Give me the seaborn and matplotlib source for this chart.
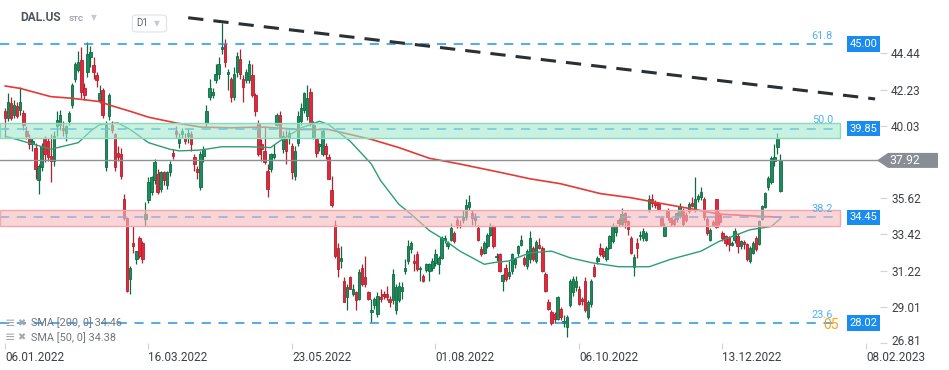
import numpy as np
import pandas as pd
import matplotlib
matplotlib.use("Agg")
import matplotlib.pyplot as plt
from matplotlib import patches, transforms
import seaborn as sns

# ---------------- data ----------------
opens = [
    40.9,40.5,41.4,40.7,41.2,41.0,40.8,39.7,39.2,38.9,38.7,36.7,37.5,39.2,39.1,38.2,37.9,40.0,40.1,39.9,39.6,40.3,41.3,42.9,43.4,44.0,42.3,43.3,44.2,43.7,43.1,41.6,
    42.2,37.5,40.6,40.1,39.5,38.4,38.3,35.6,34.4,30.7,32.9,31.9,33.2,32.9,34.35,35.5,36.0,36.7,37.1,36.2,37.2,36.4,37.2,38.4,39.7,39.0,39.5,39.3,39.4,39.5,38.1,37.4,
    36.3,38.2,40.2,41.8,41.9,42.8,43.2,44.7,45.0,43.2,42.9,41.8,43.3,44.1,42.9,42.8,42.8,43.1,41.9,40.2,38.9,38.5,37.3,37.4,38.1,40.1,40.7,38.6,39.2,39.3,38.8,37.0,39.0,
    40.3,41.0,40.6,42.1,39.3,39.2,38.8,38.3,38.8,38.1,36.1,34.0,32.6,31.8,30.6,29.6,30.8,29.8,29.9,29.5,31.4,30.8,29.9,28.7,29.1,28.6,29.6,29.8,29.8,29.5,29.4,28.8,29.4,
    30.0,31.2,31.8,32.5,31.8,32.2,31.3,30.9,31.25,31.2,31.4,31.7,31.6,32.0,33.1,32.7,33.1,33.5,34.3,34.0,34.3,34.45,35.1,34.75,34.3,33.8,32.5,32.3,32.7,33.4,33.95,32.05,32.2,
    30.6,31.4,30.9,31.2,31.6,32.3,32.8,31.97,31.5,31.9,32.6,31.8,32.8,32.6,31.0,29.3,28.7,28.6,28.3,28.9,28.05,27.8,29.1,29.9,30.2,30.1,29.5,30.6,28.4,29.2,31.45,31.8,
    32.6,32.4,31.95,32.6,33.0,33.55,34.3,34.05,34.7,34.25,33.2,31.45,32.9,33.3,33.2,33.1,34.95,35.6,35.4,35.3,34.4,33.35,34.85,34.4,34.3,34.35,34.55,34.85,34.6,34.85,35.35,
    34.95,35.6,35.7,35.55,34.35,33.1,34.2,35.55,34.65,33.5,33.3,33.25,32.75,33.05,33.3,32.7,32.95,32.85,31.8,32.3,33.2,32.85,34.35,35.1,36.3,36.6,37.9,38.75,36.05,
]
highs = [
    41.1,42.0,41.8,41.6,41.5,42.4,41.0,40.0,39.5,39.3,39.0,37.7,39.0,39.4,39.3,39.5,39.7,40.9,41.0,40.3,40.1,40.9,42.6,43.9,44.6,44.8,42.6,45.1,44.9,44.2,43.3,42.5,
    42.3,40.3,42.0,40.3,39.6,38.8,38.7,35.9,34.5,31.5,33.9,32.4,33.3,33.0,35.4,36.9,37.0,38.0,37.4,37.3,37.3,37.3,37.9,38.6,40.0,39.6,39.9,39.6,39.9,39.7,38.3,37.6,
    38.5,38.8,41.3,42.9,42.3,43.8,44.2,46.3,45.3,43.5,43.0,43.6,44.5,44.7,43.1,43.5,44.0,43.8,42.0,40.4,39.2,40.0,37.7,38.4,38.9,40.8,40.9,39.7,39.8,39.8,39.0,38.8,40.9,
    41.4,42.1,42.5,42.3,40.3,39.3,39.0,39.9,39.0,38.3,37.0,34.3,32.9,32.7,30.8,30.4,30.9,30.4,30.0,31.3,31.6,32.1,30.0,29.5,29.6,29.9,30.1,30.0,30.3,29.7,31.3,30.4,30.5,
    30.5,31.9,33.1,33.0,32.2,32.4,31.5,31.0,31.7,31.7,32.0,32.5,32.1,33.3,33.4,33.0,34.1,33.6,34.5,34.3,34.9,35.6,35.8,34.9,34.7,34.0,32.7,33.0,33.5,34.1,34.0,32.3,32.3,
    31.0,31.6,31.8,32.3,32.0,32.8,33.4,32.1,32.5,33.6,32.7,33.1,33.2,32.7,31.1,29.5,28.8,28.7,29.7,29.0,28.5,28.5,30.7,30.9,30.9,30.3,29.6,30.8,29.4,30.7,31.6,32.1,
    32.9,32.6,32.7,33.4,34.1,34.0,34.4,35.0,34.8,34.3,33.3,32.2,33.2,33.6,33.8,33.6,35.8,35.9,35.5,35.4,34.5,34.1,35.0,34.5,34.4,34.8,35.3,35.0,34.8,35.4,35.7,
    36.9,35.9,36.3,35.7,34.5,33.8,34.3,35.6,34.8,33.6,33.4,33.3,33.0,33.8,33.5,33.1,33.1,32.9,32.7,33.0,33.3,34.3,35.2,36.0,37.0,38.2,38.9,39.6,38.3,
]
lows = [
    39.3,40.3,40.4,40.5,40.5,40.7,39.8,39.2,38.6,38.5,36.8,35.9,37.3,37.8,37.9,36.6,37.6,39.4,39.8,39.4,39.1,40.1,41.1,42.7,43.3,41.7,41.6,43.0,43.6,42.9,42.4,41.4,
    40.5,37.3,40.4,39.6,37.3,37.9,36.8,34.3,29.9,29.8,32.3,31.6,32.0,31.7,33.9,35.3,35.8,36.5,35.9,36.0,36.4,36.2,37.0,38.0,39.3,38.7,39.3,38.9,39.0,38.5,37.3,36.8,
    36.1,37.8,40.0,41.6,41.7,42.6,42.9,44.4,43.6,42.2,41.5,41.6,43.0,42.9,41.5,42.6,42.6,41.8,40.6,38.2,37.9,37.7,35.7,37.2,38.0,40.0,39.3,38.4,37.7,38.9,36.8,36.7,38.8,
    40.1,40.8,40.4,40.0,39.2,38.1,38.5,38.2,38.0,36.8,35.1,32.0,30.8,31.4,29.3,28.8,30.1,29.7,28.8,29.4,30.3,30.2,29.4,28.1,28.9,28.4,29.3,29.5,29.4,29.0,29.2,28.6,29.3,
    29.5,31.0,31.6,32.3,31.2,31.2,30.6,30.5,31.1,30.6,31.2,31.5,31.0,31.9,32.9,32.5,33.0,32.9,33.8,33.8,34.1,34.3,34.9,34.0,34.0,33.0,32.1,32.2,32.6,33.3,32.6,31.8,31.1,
    30.0,30.6,30.7,31.0,31.4,32.1,32.7,31.5,31.3,31.7,31.8,31.7,32.5,31.1,29.9,28.8,27.9,28.0,28.2,28.2,27.8,27.2,29.0,29.7,30.0,29.1,29.1,28.7,28.3,29.0,30.8,31.6,
    32.1,32.0,31.8,32.5,32.9,33.3,33.9,33.9,33.8,33.4,32.2,30.9,32.0,33.1,33.0,33.0,34.8,35.1,35.0,34.9,33.9,33.3,34.3,33.9,33.9,34.2,34.4,33.9,34.2,34.7,35.1,
    34.8,35.4,35.5,34.3,33.4,33.0,33.9,33.8,34.0,33.0,32.7,32.4,32.7,32.9,32.3,32.5,32.5,31.8,31.7,32.2,32.4,32.8,34.3,35.0,36.1,36.5,37.6,38.3,36.0,
]
closes = [
    40.5,41.5,40.5,41.3,40.6,41.5,40.1,39.4,38.9,39.1,37.4,37.6,38.8,38.3,38.1,37.9,39.4,40.4,40.7,39.8,40.0,40.8,42.5,43.8,43.9,42.1,41.9,44.4,44.5,43.3,42.8,42.0,
    40.7,40.1,41.9,39.8,37.5,38.1,37.0,34.4,30.0,31.4,32.7,32.4,32.1,31.9,34.65,36.6,36.9,37.8,36.0,37.2,36.7,37.2,37.7,38.2,39.5,39.3,39.7,39.1,39.6,38.9,37.7,37.2,
    38.3,38.6,40.9,42.3,42.1,43.2,43.8,44.8,43.9,43.3,41.8,43.2,44.3,43.2,42.4,43.3,43.8,41.9,40.9,38.3,38.6,37.8,36.2,38.3,38.3,40.7,39.3,39.4,38.5,39.6,37.2,38.5,40.6,
    41.1,42.0,41.7,40.2,40.1,38.4,38.9,39.7,38.3,36.8,35.2,32.1,31.3,32.0,29.3,30.2,30.1,30.1,29.4,31.1,30.4,30.4,29.5,28.8,29.5,29.7,29.5,29.7,29.6,29.3,31.0,30.2,30.3,
    30.2,31.4,32.7,32.9,31.7,31.3,31.4,30.6,31.6,31.6,31.8,32.2,32.0,33.2,33.2,32.9,33.8,33.0,34.0,33.9,34.5,35.2,35.4,34.4,34.5,33.1,32.2,32.9,33.4,33.95,32.7,32.1,31.2,
    30.95,30.7,31.1,32.2,31.95,32.7,33.1,31.6,32.4,33.2,31.9,32.97,32.6,31.2,29.95,28.9,28.0,28.3,29.6,28.4,28.1,28.4,30.6,30.7,30.6,29.2,29.35,28.8,29.3,30.6,30.9,32.0,
    32.2,32.1,32.6,33.3,33.95,33.85,34.1,34.65,34.15,33.75,32.3,32.05,32.6,33.4,33.6,33.5,35.55,35.3,35.2,34.95,34.0,33.95,34.45,34.15,34.05,34.7,35.15,34.05,34.3,35.25,35.15,
    35.55,35.75,36.0,34.45,33.5,33.7,34.0,33.85,34.15,33.2,32.9,32.85,32.9,33.6,32.7,33.0,32.85,31.9,32.6,32.9,32.5,34.25,35.15,35.95,36.85,38.05,38.1,39.2,37.92,
]

sma200_idx = [0, 5, 15, 22, 31, 34, 42, 47, 56, 64, 74, 84, 97, 106, 113, 120, 129, 139, 149, 162, 172, 182, 195, 205, 215, 224, 234, 244, 254]
sma200_val = [42.45, 42.3, 41.8, 41.7, 41.5, 41.3, 40.85, 40.55, 40.2, 39.95, 39.9, 39.95, 39.8, 39.8, 39.5, 39.2, 38.7, 38.05, 37.7, 37.2, 36.8, 36.5, 35.9, 35.65, 35.3, 35.0, 34.65, 34.55, 34.46]

sma50_idx = [0, 15, 24, 28, 31, 37, 41, 47, 54, 57, 64, 71, 80, 87, 90, 97, 103, 106, 113, 120, 123, 129, 133, 139, 143, 149, 157, 160, 165, 172, 179, 185, 192, 201, 211, 218, 228, 234, 244, 251, 254]
sma50_val = [39.4, 38.6, 39.0, 39.7, 40.1, 40.2, 39.8, 39.0, 38.6, 38.5, 38.55, 38.75, 38.75, 38.7, 39.1, 39.9, 40.3, 40.1, 39.1, 37.7, 36.7, 35.25, 34.65, 33.65, 33.2, 32.4, 31.6, 31.7, 31.8, 32.3, 32.4, 32.0, 31.7, 31.45, 31.45, 31.9, 32.4, 33.0, 33.7, 33.9, 34.38]

trend_idx = [60, 285]
trend_val = [46.6, 41.66]

date_ticks = [0, 47, 94, 141, 188, 235, 282]
date_labels = ['06.01.2022', '16.03.2022', '23.05.2022', '01.08.2022', '06.10.2022', '13.12.2022', '08.02.2023']
price_ticks = [26.81, 29.01, 31.22, 33.42, 35.62, 40.03, 42.23, 44.44]

fib_levels = [45.00, 39.85, 34.45, 28.02]
fib_names = ['61.8', '50.0', '38.2', '23.6']
zone_green = [39.26, 40.17]
zone_red = [33.94, 34.90]
last_price = 37.92
sma_names = ['SMA [200, 0] 34.46', 'SMA [50, 0] 34.38']

# ---------------- figure ----------------
W, H = 949, 370
sns.set_theme(style='white')
plt.rcParams['font.family'] = ['Roboto', 'DejaVu Sans']

fig = plt.figure(figsize=(W / 100, H / 100), dpi=100)
fig.patch.set_facecolor('white')
AX_R, AX_B = 880, 343
ax = fig.add_axes([0, (H - AX_B) / H, AX_R / W, AX_B / H])
ax.set_facecolor('white')
px_per_bar = 3.053
x0 = -5 / px_per_bar
x1 = (AX_R - 5) / px_per_bar
ax.set_xlim(x0, x1)
ax.set_ylim(26.84, 47.68)
zone_end = (840 - 5) / px_per_bar

# candles
df = pd.DataFrame({'open': opens, 'high': highs, 'low': lows, 'close': closes})
df['idx'] = np.arange(len(df))
up = (df['close'] >= df['open']).values
fill = np.where(up, '#1c8c5c', '#e2283c')
edge = np.where(up, '#0e6a43', '#b3202f')
ax.vlines(df['idx'], df['low'], df['high'], colors=edge, linewidth=0.9, zorder=2)
body_lo = df[['open', 'close']].min(axis=1)
body_h = (df['close'] - df['open']).abs().clip(lower=0.07)
ax.bar(df['idx'], body_h, bottom=body_lo, width=0.8, color=fill,
       edgecolor=edge, linewidth=0.6, zorder=2.2)

# moving averages
sns.lineplot(x=np.array(sma200_idx), y=np.array(sma200_val), ax=ax, color='#e53935',
             linewidth=1.2, estimator=None, sort=False, legend=False, zorder=3)
sns.lineplot(x=np.array(sma50_idx), y=np.array(sma50_val), ax=ax, color='#2e9d73',
             linewidth=1.0, estimator=None, sort=False, legend=False, zorder=3)

# fib dashed lines (under the zones)
ax.hlines(fib_levels, x0, zone_end, colors='#1e96e8', linestyles=[(0, (6, 5))],
          linewidth=1.1, zorder=3.6)

# zones
for (lo, hi), fc, ec in [(zone_green, '#a5e8cf', '#86dcbc'), (zone_red, '#f8b9be', '#f3a6ad')]:
    ax.add_patch(patches.Rectangle((x0, lo), zone_end - x0, hi - lo, facecolor=fc,
                                   alpha=0.6, edgecolor='none', zorder=4))
    ax.add_patch(patches.Rectangle((x0, lo), zone_end - x0, hi - lo, fill=False,
                                   edgecolor=ec, linewidth=1.0, zorder=4.1))

# last price line
ax.axhline(last_price, color='#8b9196', linewidth=1.0, zorder=4.5)

# trend line
sns.lineplot(x=np.array(trend_idx), y=np.array(trend_val), ax=ax, color='#2b3035',
             linewidth=2.2, estimator=None, sort=False, legend=False, zorder=6)
ax.lines[-1].set_linestyle((0, (5, 3.3)))

# axes styling
for s in ax.spines.values():
    s.set_visible(False)
ax.yaxis.tick_right()
ax.set_yticks(price_ticks)
ax.set_yticklabels([f'{v:.2f}' for v in price_ticks])
ax.tick_params(axis='y', length=5, width=0.8, color='#d0d4d8', labelcolor='#3c4043',
               labelsize=8.5, pad=3, right=True, left=False)
ax.set_xticks(date_ticks)
ax.set_xticklabels(date_labels, ha='left')
ax.tick_params(axis='x', length=4, width=0.8, color='#d0d4d8', labelcolor='#3c4043',
               labelsize=8.5, pad=2, bottom=True)
ax.set_xlabel('')
ax.set_ylabel('')
ax.grid(False)
# the lowest price label sits a little higher, as in the reference
low_lbl = ax.get_yticklabels()[0]
low_lbl.set_transform(low_lbl.get_transform() +
                      transforms.ScaledTranslation(0, 3 / 100, fig.dpi_scale_trans))

blend = transforms.blended_transform_factory(ax.transAxes, ax.transData)
# blue price boxes and fib names
for lvl, name in zip(fib_levels, fib_names):
    ax.text(877.3 / AX_R, lvl, f'{lvl:.2f}', transform=blend, ha='right', va='center',
            color='white', fontsize=8, zorder=10, clip_on=False,
            bbox=dict(boxstyle='square,pad=0.25', fc='#1a8cf0', ec='none'))
    ax.annotate(name, xy=(833 / AX_R, lvl), xycoords=blend, xytext=(0, 2.5),
                textcoords='offset points', ha='right', va='bottom',
                color='#4db2ee', fontsize=7.8, zorder=10)
ax.annotate('05', xy=(823 / AX_R, fib_levels[3]), xycoords=blend, xytext=(0, -1),
            textcoords='offset points', ha='left', va='center',
            color='#ff9f1a', fontsize=10, zorder=10)

# grey last-price tag
ypx = ax.transData.transform((0, last_price))[1]
tag = [(877, ypx), (888, ypx + 7.5), (938, ypx + 7.5), (938, ypx - 7.5), (888, ypx - 7.5)]
fig.add_artist(patches.Polygon(tag, closed=True, transform=transforms.IdentityTransform(),
                               facecolor='#878e95', edgecolor='none', zorder=10))
fig.text(905 / W, ypx / H, f'{last_price:.2f}', ha='center', va='center',
         color='white', fontsize=8.8, zorder=11)

# header
def ftxt(x, y, s, **kw):
    fig.text(x / W, 1 - y / H, s, va='center', **kw)

ftxt(20.5, 17.5, 'DAL.US', fontsize=8.6, fontweight='bold', color='#4d5660')
ftxt(68.5, 18.5, 'STC', fontsize=5.8, fontweight='bold', color='#9aa4ae')
ftxt(91, 17.5, '▼', fontsize=5.5, color='#c6cbd0', family=['DejaVu Sans'])
fig.add_artist(patches.FancyBboxPatch((132.5 / W, 1 - 32 / H), 34 / W, 17 / H,
                                      boxstyle='round,pad=0,rounding_size=0.006',
                                      transform=fig.transFigure, facecolor='white',
                                      edgecolor='#e1e4e7', linewidth=0.9))
ftxt(136.5, 23.5, 'D1', fontsize=7, color='#5f6368')
ftxt(154, 23.5, '▼', fontsize=5.5, color='#c6cbd0', family=['DejaVu Sans'])

# SMA legend
for i, name in enumerate(sma_names):
    yy = 323 + 14.5 * i
    ftxt(5, yy, '≡', fontsize=9, color='#a3a8ad', family=['DejaVu Sans'])
    ftxt(17.5, yy, '✖', fontsize=7, color='#a3a8ad', family=['DejaVu Sans'])
    ftxt(31.5, yy, name, fontsize=7.8, color='#70767c')

fig.savefig('out.png', dpi=100, facecolor='white')
